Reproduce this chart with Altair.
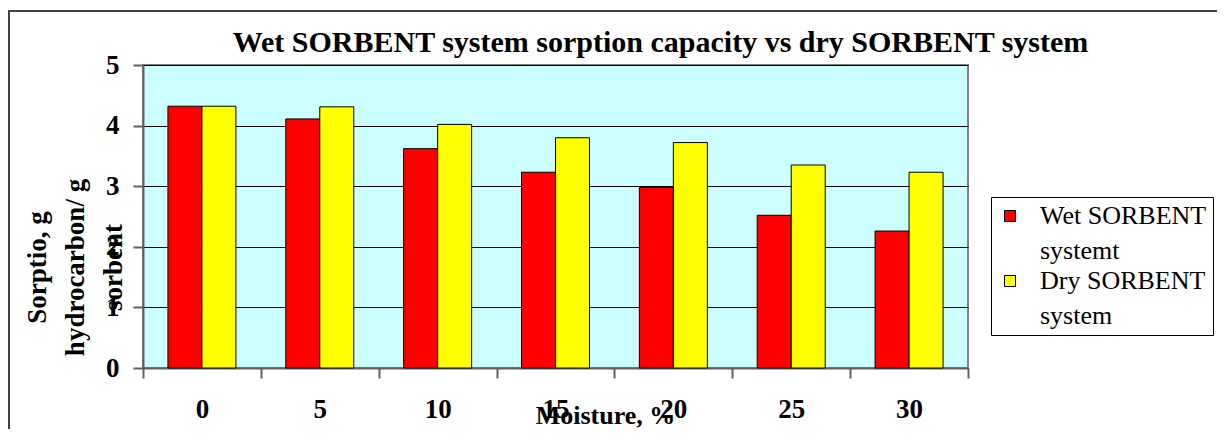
import altair as alt
import pandas as pd

moisture = ["0", "5", "10", "15", "20", "25", "30"]
wet = [4.32, 4.11, 3.62, 3.23, 2.98, 2.52, 2.26]
dry = [4.32, 4.31, 4.02, 3.80, 3.72, 3.35, 3.23]
series = ["Wet SORBENT systemt", "Dry SORBENT system"]
colors = ["#FF0000", "#FFFF00"]
y_ticks = [0, 1, 2, 3, 4, 5]
title_text = "Wet SORBENT system sorption capacity vs dry SORBENT system"
x_title = "Moisture, %"
y_title = ["Sorptio, g", "hydrocarbon/ g", "sorbent"]

rows = []
for i, m in enumerate(moisture):
    rows.append({"Moisture": m, "Series": series[0], "Value": wet[i]})
    rows.append({"Moisture": m, "Series": series[1], "Value": dry[i]})
df = pd.DataFrame(rows)

W, H = 825, 303
FONT = "Liberation Serif"
PAD_L, PAD_T = 135, 57

frame = alt.Chart(pd.DataFrame({"a": [0]})).mark_rect(
    fill="transparent", stroke="#404040", strokeWidth=2, clip=False
).encode(
    x=alt.value(-134), x2=alt.value(W + 400), y=alt.value(-54), y2=alt.value(H + 90)
)

bars = alt.Chart(df).mark_bar(stroke="black", strokeWidth=1).encode(
    x=alt.X(
        "Moisture:N",
        sort=moisture,
        scale=alt.Scale(paddingInner=0, paddingOuter=0),
        axis=alt.Axis(
            tickBand="extent",
            tickSize=10,
            tickColor="#606060",
            tickWidth=2,
            domainColor="#606060",
            domainWidth=2,
            labelAngle=0,
            labelFont=FONT,
            labelFontSize=27,
            labelFontWeight="bold",
            labelColor="black",
            labelPadding=18,
            title=x_title,
            titleFont=FONT,
            titleFontSize=26,
            titleFontWeight="bold",
            titleColor="black",
            titleX=462,
            titleY=47,
            titleBaseline="middle",
            titleAlign="center",
        ),
    ),
    xOffset=alt.XOffset(
        "Series:N", sort=series, scale=alt.Scale(domain=series, paddingOuter=0.733, paddingInner=0)
    ),
    y=alt.Y(
        "Value:Q",
        scale=alt.Scale(domain=[0, 5], nice=False),
        axis=alt.Axis(
            values=y_ticks,
            grid=True,
            gridColor="black",
            gridWidth=1,
            tickSize=10,
            tickColor="#606060",
            tickWidth=2,
            domainColor="#606060",
            domainWidth=2,
            labelFont=FONT,
            labelFontSize=27,
            labelFontWeight="bold",
            labelColor="black",
            labelPadding=14,
            title=y_title,
            titleFont=FONT,
            titleFontSize=27,
            titleFontWeight="bold",
            titleColor="black",
            titleAngle=270,
            titleX=-106,
            titleY=202,
            titleAlign="center",
            titleBaseline="middle",
            titleLineHeight=38,
        ),
    ),
    color=alt.Color(
        "Series:N",
        sort=series,
        scale=alt.Scale(domain=series, range=colors),
        legend=alt.Legend(
            title=None,
            orient="none",
            legendX=848,
            legendY=132,
            strokeColor="black",
            fillColor="white",
            padding=6,
            symbolType="square",
            symbolSize=121,
            symbolStrokeColor="black",
            symbolStrokeWidth=1,
            symbolOpacity=1,
            labelFont=FONT,
            labelFontSize=26,
            labelColor="black",
            labelLimit=400,
            labelOffset=17,
            rowPadding=4,
            labelExpr="[slice(datum.label, 0, 11), slice(datum.label, 12)]",
        ),
    ),
)

chart = alt.layer(frame, bars).properties(
    width=W,
    height=H,
    title=alt.Title(
        title_text,
        font=FONT,
        fontSize=30,
        fontWeight="bold",
        color="black",
        anchor="middle",
        frame="group",
        dx=105,
        baseline="alphabetic",
        offset=-72,
    ),
    autosize=alt.AutoSizeParams(type="none"),
    padding={"left": PAD_L, "top": PAD_T, "right": 1209 - PAD_L - W, "bottom": 421 - PAD_T - H},
).configure(
    background="white",
    style={"guide-label": {"lineHeight": 35}},
).configure_view(
    stroke="#808080", strokeWidth=2, fill="#CCFFFF"
)

chart.save("out.html", embed_options={"renderer": "svg", "actions": False})
